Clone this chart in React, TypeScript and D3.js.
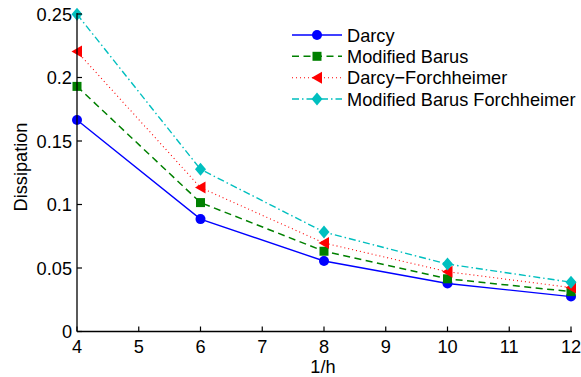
import React from "react";
import * as d3 from "d3";

const xValues = [4, 6, 8, 10, 12];
const darcy = [0.1665, 0.0885, 0.0555, 0.0378, 0.0275];
const modifiedBarus = [0.193, 0.1015, 0.0632, 0.0415, 0.0314];
const darcyForch = [0.2205, 0.1133, 0.0697, 0.0471, 0.0346];
const modBarusForch = [0.2498, 0.1277, 0.0783, 0.0531, 0.0388];
const seriesNames = ["Darcy", "Modified Barus", "Darcy\u2212Forchheimer", "Modified Barus Forchheimer"];
const xTicks = [4, 5, 6, 7, 8, 9, 10, 11, 12];
const yTicks = [0, 0.05, 0.1, 0.15, 0.2, 0.25];
const yTickLabels = ["0", "0.05", "0.1", "0.15", "0.2", "0.25"];

const W = 581, H = 377;
const L = 77, R = 571, T = 14, B = 331.5;

const styles = [
  { color: "#0000ff", dash: "", marker: "circle", width: 1.4 },
  { color: "#008000", dash: "7,4.5", marker: "square", width: 1.5 },
  { color: "#ff0000", dash: "1,3", marker: "triangle", width: 1.1 },
  { color: "#00bfbf", dash: "7,3,1.5,3", marker: "diamond", width: 1.4 },
];

function Marker({ type, x, y, color }: { type: string; x: number; y: number; color: string }) {
  if (type === "circle") return <circle cx={x} cy={y} r={5} fill={color} />;
  if (type === "square") return <rect x={x - 4.5} y={y - 4.5} width={9} height={9} fill={color} />;
  if (type === "triangle")
    return <path d={`M${x - 5.5},${y} L${x + 5},${y - 6} L${x + 5},${y + 6} Z`} fill={color} />;
  return <path d={`M${x},${y - 6.5} L${x + 5.5},${y} L${x},${y + 6.5} L${x - 5.5},${y} Z`} fill={color} />;
}

export default function App() {
  const x = d3.scaleLinear().domain([4, 12]).range([L, R]);
  const y = d3.scaleLinear().domain([0, 0.25]).range([B, T]);
  const all = [darcy, modifiedBarus, darcyForch, modBarusForch];
  const line = d3.line<number>().x((_, i) => x(xValues[i])).y((d) => y(d));
  const font = "'Liberation Sans', Arial, Helvetica, sans-serif";
  const fs = 18.2;
  const legY = [35, 56.3, 77.7, 99];
  return (
    <svg width={W} height={H} style={{ position: "absolute", left: 0, top: 0, background: "#fff" }} fontFamily={font}>
      {all.map((s, k) => (
        <g key={k}>
          <path d={line(s) || ""} fill="none" stroke={styles[k].color} strokeWidth={styles[k].width} strokeDasharray={styles[k].dash} />
          {s.map((v, i) => (
            <Marker key={i} type={styles[k].marker} x={x(xValues[i])} y={y(v)} color={styles[k].color} />
          ))}
        </g>
      ))}
      {/* axes */}
      <line x1={L} x2={R + 1} y1={B} y2={B} stroke="#000" strokeWidth={1.3} />
      <line x1={L} x2={L} y1={T - 1} y2={B} stroke="#000" strokeWidth={1.3} />
      {xTicks.map((t) => (
        <g key={t}>
          <line x1={x(t)} x2={x(t)} y1={B} y2={B - 5} stroke="#000" strokeWidth={1.2} />
          <text x={x(t)} y={353} textAnchor="middle" fontSize={fs}>{t}</text>
        </g>
      ))}
      {yTicks.map((t, i) => (
        <g key={t}>
          <line x1={L} x2={L + 5} y1={y(t)} y2={y(t)} stroke="#000" strokeWidth={1.2} />
          <text x={72} y={y(t) + 6.5} textAnchor="end" fontSize={fs}>{yTickLabels[i]}</text>
        </g>
      ))}
      <text x={323} y={372.5} textAnchor="middle" fontSize={fs}>1/h</text>
      <text transform={`translate(27,167) rotate(-90)`} textAnchor="middle" fontSize={fs}>Dissipation</text>
      {/* legend */}
      {seriesNames.map((n, k) => (
        <g key={n}>
          <line x1={292} x2={342} y1={legY[k]} y2={legY[k]} stroke={styles[k].color} strokeWidth={styles[k].width} strokeDasharray={styles[k].dash} />
          <Marker type={styles[k].marker} x={317} y={legY[k]} color={styles[k].color} />
          <text x={347} y={legY[k] + 6.7} fontSize={fs}>{n}</text>
        </g>
      ))}
    </svg>
  );
}
